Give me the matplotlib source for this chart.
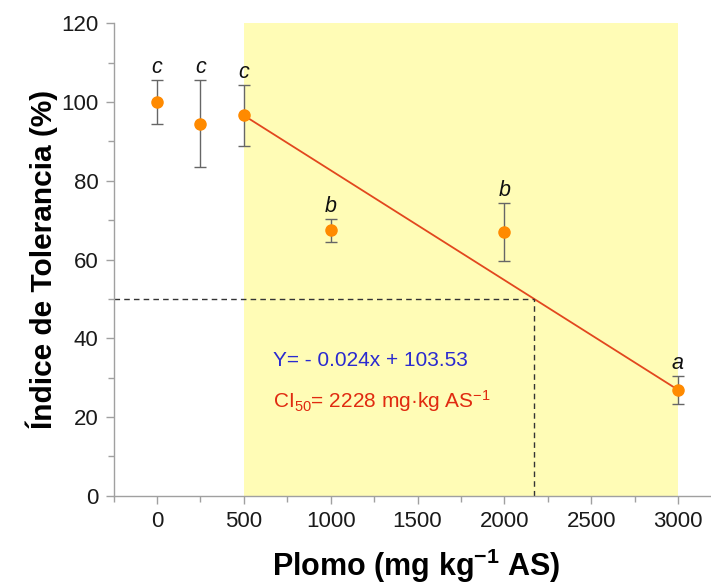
import matplotlib
matplotlib.use("Agg")
import matplotlib.pyplot as plt
from matplotlib.ticker import MultipleLocator

plt.rcParams['font.family'] = ['Liberation Sans', 'DejaVu Sans']
plt.rcParams['mathtext.fontset'] = 'custom'
plt.rcParams['mathtext.rm'] = 'Liberation Sans'
plt.rcParams['mathtext.it'] = 'Liberation Sans:italic'
plt.rcParams['mathtext.bf'] = 'Liberation Sans:bold'

# Lead dose (mg kg-1 AS) and tolerance index (%)
dose = [0, 250, 500, 1000, 2000, 3000]
tolerance = [100.0, 94.5, 96.6, 67.4, 66.9, 26.9]
sd = [5.7, 11.0, 7.8, 3.0, 7.4, 3.6]
groups = ['c', 'c', 'c', 'b', 'b', 'a']

x_ticks = [0, 500, 1000, 1500, 2000, 2500, 3000]
y_ticks = [0, 20, 40, 60, 80, 100, 120]

shade_range = (500, 3000)
eq_text = 'Y= - 0.024x + 103.53'
ci_text = r'CI$_{50}$= 2228 mg·kg AS$^{-1}$'
target = 50

fig = plt.figure(figsize=(7.11, 5.86), dpi=100)
ax = fig.add_axes([0.1598, 0.1541, 0.8426, 0.8061])

ax.axvspan(*shade_range, color='#fffcb6', zorder=0, lw=0)

# trend segment over the shaded dose range
i0, i1 = dose.index(shade_range[0]), dose.index(shade_range[1])
x0, y0 = dose[i0], tolerance[i0]
x1, y1 = dose[i1], tolerance[i1]
ax.plot([x0, x1], [y0, y1], color='#e2471e', lw=1.3, zorder=2)

# dose giving 50 % tolerance on that segment
slope = (y1 - y0) / (x1 - x0)
x50 = x0 + (target - y0) / slope
ax.plot([-250, x50], [target, target], ls=(0, (4, 3)), color='#333333', lw=1.0, zorder=2)
ax.plot([x50, x50], [0, target], ls=(0, (4, 3)), color='#333333', lw=1.0, zorder=2)

ax.errorbar(dose, tolerance, yerr=sd, fmt='o', color='#ff8a00', ms=8,
            ecolor='#666666', elinewidth=1.0, capsize=4, capthick=1.0, zorder=3)

for x, y, e, g in zip(dose, tolerance, sd, groups):
    ax.annotate(g, (x, y + e), xytext=(0, 5), textcoords='offset points',
                ha='center', va='baseline', fontsize=15.5, style='italic', color='#111111')

ax.text(668, 34.3, eq_text, color='#2a2ad0', fontsize=15, va='center', ha='left')
ax.text(668, 24.0, ci_text, color='#e02a10', fontsize=15, va='center', ha='left')

ax.set_xlim(-250, 3200)
ax.set_ylim(0, 120)
ax.set_xticks(x_ticks)
ax.set_yticks(y_ticks)
ax.xaxis.set_minor_locator(MultipleLocator(250))
ax.yaxis.set_minor_locator(MultipleLocator(10))

for side in ('top', 'right'):
    ax.spines[side].set_visible(False)
for side in ('left', 'bottom'):
    ax.spines[side].set_color('#a0a0a0')
    ax.spines[side].set_linewidth(1.0)

ax.tick_params(which='major', direction='out', length=6, width=1.0, color='#a0a0a0',
               labelsize=16, labelcolor='#1a1a1a', pad=5)
ax.tick_params(which='minor', direction='out', length=4, width=1.0, color='#a0a0a0')

ax.set_xlabel(r'Plomo (mg kg$^{\mathbf{-1}}$ AS)', fontsize=22, fontweight='bold', va='baseline')
ax.xaxis.set_label_coords(0.506, -0.170)
ax.set_ylabel('Índice de Tolerancia (%)', fontsize=21.5, fontweight='bold', labelpad=2)

fig.savefig('out.png', dpi=100)
